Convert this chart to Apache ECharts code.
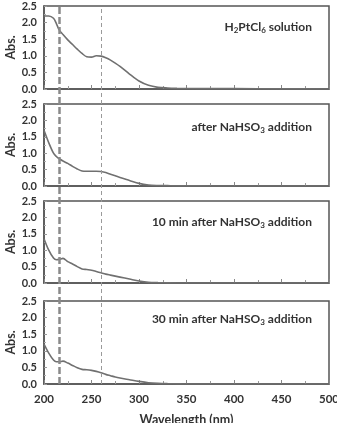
<!DOCTYPE html>
<html><head><meta charset="utf-8">
<script src="https://cdn.jsdelivr.net/npm/echarts@6/dist/echarts.min.js"></script>
<style>html,body{margin:0;padding:0;background:#fff}#c{width:337px;height:423px}</style>
</head><body><div id="c"></div>
<script>
var wavelengths = [200,205,210,213,216,220,225,230,235,240,245,250,255,260,265,270,275,280,290,300,310,320,330,340,350,375,400,450,500];
var absSolution = [2.2,2.2,2.13,1.97,1.78,1.64,1.48,1.34,1.2,1.07,0.97,0.96,1.0,0.99,0.94,0.87,0.78,0.68,0.45,0.24,0.11,0.05,0.03,0.02,0.015,0.01,0.01,0.005,0];
var absAfter = [1.7,1.32,1.0,0.9,0.83,0.76,0.69,0.6,0.52,0.46,0.45,0.45,0.45,0.44,0.41,0.36,0.31,0.26,0.17,0.08,0.03,0.015,0.01,0.005,0.005,0,0,0,0];
var abs10min = [1.35,1.0,0.76,0.71,0.72,0.75,0.65,0.58,0.5,0.43,0.41,0.39,0.35,0.31,0.27,0.24,0.21,0.18,0.12,0.06,0.02,0.01,0.005,0,0,0,0,0,0];
var abs30min = [1.2,0.93,0.72,0.67,0.67,0.69,0.63,0.56,0.49,0.44,0.43,0.41,0.38,0.34,0.29,0.25,0.21,0.18,0.13,0.08,0.04,0.02,0.01,0.005,0,0,0,0,0];
var panelTitles = ['H{s|2}PtCl{s|6} solution','after NaHSO{s|3} addition','10 min after NaHSO{s|3} addition','30 min after NaHSO{s|3} addition'];
var markerWavelengths = [216, 260];
var yTicks = [0, 2.5, 0.5];
var xTicks = [200, 500, 50];

var seriesData = [absSolution, absAfter, abs10min, abs30min];
var tops = [6, 104, 201, 301];
var heights = [83, 82, 82, 83];
var titleTops = [15, 115, 210, 307];
var font = 'Lato';
var txt = '#333';
var chart = echarts.init(document.getElementById('c'));
var grids = [], xAxes = [], yAxes = [], series = [], titles = [];
for (var i = 0; i < 4; i++) {
  grids.push({left: 44, right: 8, top: tops[i], height: heights[i], show: true, borderColor: '#555', borderWidth: 1.5, backgroundColor: 'transparent', containLabel: false, outerBoundsMode: 'none'});
  var last = i === 3;
  xAxes.push({gridIndex: i, type: 'value', min: xTicks[0], max: xTicks[1], interval: xTicks[2],
    axisLine: {show: true, lineStyle: {color: '#555', width: 1.5}},
    axisTick: {show: true, inside: true, length: 4, lineStyle: {color: '#888'}},
    minorTick: {show: true, splitNumber: 2, length: 3, lineStyle: {color: '#999'}},
    splitLine: {show: false},
    axisLabel: {show: last, fontFamily: font, fontWeight: 'bold', fontSize: 11.5, color: txt, margin: 9},
    name: last ? 'Wavelength (nm)' : '', nameLocation: 'middle', nameGap: 29,
    nameTextStyle: {fontFamily: font, fontWeight: 'bold', fontSize: 12.5, color: txt}
  });
  yAxes.push({gridIndex: i, type: 'value', min: yTicks[0], max: yTicks[1], interval: yTicks[2],
    axisLine: {show: true, lineStyle: {color: '#555', width: 1.5}},
    axisTick: {show: true, inside: true, length: 3, lineStyle: {color: '#999'}},
    minorTick: {show: true, splitNumber: 2, length: 2, lineStyle: {color: '#aaa'}},
    splitLine: {show: false},
    axisLabel: {fontFamily: font, fontWeight: 'bold', fontSize: 11, color: txt, margin: 7, formatter: function(v){return v.toFixed(1);}},
    name: 'Abs.', nameLocation: 'middle', nameGap: 27, nameRotate: 90, nameMoveOverlap: false,
    nameTextStyle: {fontFamily: font, fontWeight: 'bold', fontSize: 12.5, color: txt}
  });
  var d = wavelengths.map(function(w, k){ return [w, seriesData[i][k]]; });
  series.push({type: 'line', xAxisIndex: i, yAxisIndex: i, data: d, smooth: 0.3, showSymbol: false, symbol: 'none',
    lineStyle: {color: '#707070', width: 1.6}, silent: true});
  titles.push({text: panelTitles[i], right: 20, top: titleTops[i],
    textStyle: {fontFamily: font, fontWeight: 'bold', fontSize: 12, color: txt,
      rich: {s: {fontFamily: font, fontWeight: 'bold', fontSize: 8, color: txt, verticalAlign: 'bottom', padding: [6,0,0,0]}}}});
}
grids.push({left: 44, right: 8, top: 6, height: 378, show: false, containLabel: false, outerBoundsMode: 'none'});
xAxes.push({gridIndex: 4, type: 'value', min: xTicks[0], max: xTicks[1], show: false});
yAxes.push({gridIndex: 4, type: 'value', min: 0, max: 1, show: false});
series.push({type: 'line', xAxisIndex: 4, yAxisIndex: 4, data: [], silent: true,
  markLine: {silent: true, symbol: 'none', label: {show: false}, animation: false,
    data: [
      {xAxis: markerWavelengths[0], lineStyle: {color: '#8a8a8a', width: 2.5, type: [7, 3]}},
      {xAxis: markerWavelengths[1], lineStyle: {color: '#9a9a9a', width: 1, type: [4, 3]}}
    ]}});
chart.setOption({animation: false, title: titles, grid: grids, xAxis: xAxes, yAxis: yAxes, series: series});
</script></body></html>
